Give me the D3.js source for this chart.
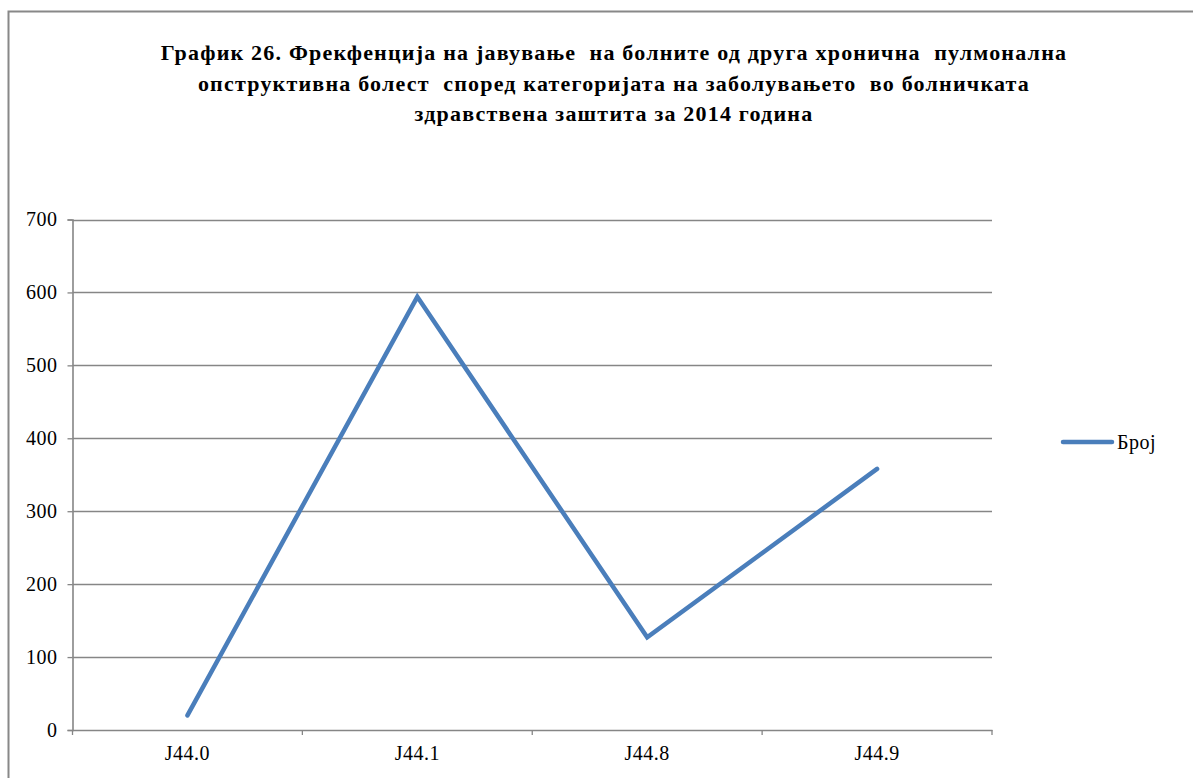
<!DOCTYPE html>
<html>
<head>
<meta charset="utf-8">
<script src="https://cdn.jsdelivr.net/npm/d3@7"></script>
<style>
body { margin: 0; background: #fff; }
</style>
</head>
<body>
<script>
var svgWidth = 1193;
var svgHeight = 778;

var categories = ["J44.0", "J44.1", "J44.8", "J44.9"];
var values = [20, 594, 127, 358];
var yTicks = [0, 100, 200, 300, 400, 500, 600, 700];
var seriesName = "Број";
var titleLines = [
    "График 26. Фрекфенција на јавување  на болните од друга хронична  пулмонална",
    "опструктивна болест  според категоријата на заболувањето  во болничката",
    "здравствена заштита за 2014 година"
];

var serif = "'Liberation Serif', 'Times New Roman', serif";
var plot = { left: 72.5, right: 992, top: 219.5, bottom: 730 };
var axisColor = "#868686";
var lineColor = "#4a7ebb";

var svg = d3.select("body")
    .append("svg")
    .attr("width", svgWidth)
    .attr("height", svgHeight);

// outer chart border (runs off the right/bottom of the picture)
svg.append("rect")
    .attr("x", 8.5)
    .attr("y", 11.5)
    .attr("width", 1300)
    .attr("height", 900)
    .attr("fill", "none")
    .attr("stroke", "#888")
    .attr("stroke-width", 2);

svg.selectAll("text.title")
    .data(titleLines)
    .enter()
    .append("text")
    .attr("class", "title")
    .attr("x", 614)
    .attr("y", function (d, i) { return 60 + i * 30.5; })
    .attr("text-anchor", "middle")
    .style("font-family", serif)
    .style("font-size", "22px")
    .style("font-weight", "bold")
    .style("letter-spacing", "1.2px")
    .style("white-space", "pre")
    .attr("fill", "#000")
    .text(function (d) { return d; });

var x = d3.scaleBand()
    .domain(categories)
    .range([plot.left, plot.right]);

var y = d3.scaleLinear()
    .domain([0, 700])
    .range([plot.bottom, plot.top]);

// gridlines
svg.selectAll("line.grid")
    .data(yTicks.slice(1))
    .enter()
    .append("line")
    .attr("class", "grid")
    .attr("x1", plot.left)
    .attr("x2", plot.right)
    .attr("y1", function (d) { return Math.round(y(d)) + 0.5; })
    .attr("y2", function (d) { return Math.round(y(d)) + 0.5; })
    .attr("stroke", axisColor)
    .attr("stroke-width", 1.3);

var yAxis = svg.append("g")
    .attr("transform", "translate(" + plot.left + ",0)")
    .call(d3.axisLeft(y).tickValues(yTicks).tickSize(5).tickPadding(10));

var xAxis = svg.append("g")
    .attr("transform", "translate(0," + plot.bottom + ")")
    .call(d3.axisBottom(x).tickSize(0).tickPadding(16));

// category boundary ticks
var bounds = categories.map(function (c) { return x(c); }).concat([plot.right]);
xAxis.selectAll("line.bound")
    .data(bounds)
    .enter()
    .append("line")
    .attr("class", "bound")
    .attr("x1", function (d) { return d; })
    .attr("x2", function (d) { return d; })
    .attr("y1", 0)
    .attr("y2", 5)
    .attr("stroke", axisColor)
    .attr("stroke-width", 1.3);

[yAxis, xAxis].forEach(function (g) {
    g.select(".domain").attr("stroke", axisColor).attr("stroke-width", 1.6);
    g.selectAll(".tick line").attr("stroke", axisColor).attr("stroke-width", 1.3);
    g.selectAll("text")
        .style("font-family", serif)
        .style("font-size", "20px")
        .style("letter-spacing", "0.5px")
        .attr("fill", "#000");
});

var line = d3.line()
    .x(function (d, i) { return x(categories[i]) + x.bandwidth() / 2; })
    .y(function (d) { return y(d); });

svg.append("path")
    .datum(values)
    .attr("d", line)
    .attr("fill", "none")
    .attr("stroke", lineColor)
    .attr("stroke-width", 4.5)
    .attr("stroke-linecap", "round")
    .attr("stroke-linejoin", "miter");

// legend
svg.append("line")
    .attr("x1", 1063)
    .attr("x2", 1112)
    .attr("y1", 442)
    .attr("y2", 442)
    .attr("stroke", lineColor)
    .attr("stroke-width", 4.5)
    .attr("stroke-linecap", "round");

svg.append("text")
    .attr("x", 1117)
    .attr("y", 449)
    .style("font-family", serif)
    .style("font-size", "20px")
    .style("letter-spacing", "0.5px")
    .attr("fill", "#000")
    .text(seriesName);
</script>
</body>
</html>
